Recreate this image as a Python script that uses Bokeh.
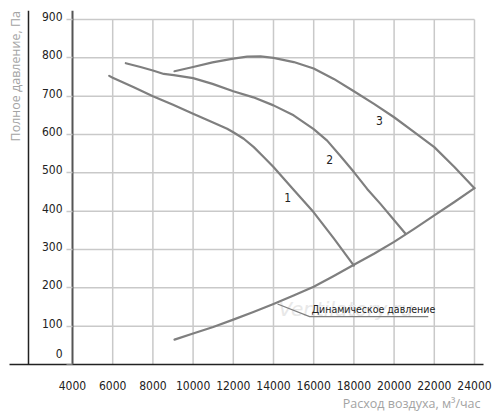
import math
from bokeh.plotting import figure
from bokeh.models import Range1d, Label, FixedTicker, LinearAxis, Span, Title
from bokeh.core.properties import value
from bokeh.embed import file_html
from bokeh.resources import INLINE

# ---- data ----
x_ticks = [4000, 6000, 8000, 10000, 12000, 14000, 16000, 18000, 20000, 22000, 24000]
y_ticks = [0, 100, 200, 300, 400, 500, 600, 700, 800, 900]
y_tick_labels = ["0", "100", "200", "300", "400", "500", "600", "700", "800", "900"]

curve1_x = [5826, 6000, 7050, 8000, 8975, 10000, 10965, 11695, 12000, 12520, 13020, 13500, 14000, 15000, 16000, 17000, 18000]
curve1_y = [753, 748, 723, 700, 678, 654, 632, 615, 606, 589, 567, 542, 515, 456, 397, 329, 258]

curve2_x = [6652, 7383, 8000, 8542, 9040, 10000, 10965, 12000, 13000, 14000, 15000, 16000, 16670, 17330, 18000, 18660, 19320, 20570]
curve2_y = [786, 776, 767, 758, 755, 747, 732, 713, 697, 676, 650, 614, 584, 544, 502, 458, 419, 341]

curve3_x = [9075, 10000, 10965, 12000, 12690, 13353, 14000, 15010, 16000, 17000, 18000, 19000, 20000, 21000, 22000, 23000, 24000]
curve3_y = [765, 776, 788, 798, 803, 804, 800, 789, 772, 745, 713, 680, 645, 606, 567, 515, 460]

dyn_x = [9075, 10000, 11000, 12000, 13000, 14000, 15000, 16000, 17000, 18000, 19000, 20000, 21000, 22000, 23000, 24000]
dyn_y = [65, 81, 98, 117, 137, 158, 180, 203, 231, 260, 289, 320, 354, 389, 424, 460]

curve_labels = ["1", "2", "3"]
curve_label_x = [14700, 16790, 19270]
curve_label_y = [436, 536, 637]

dyn_label = "Динамическое давление"
y_title = "Полное давление, Па"
x_title = "Расход воздуха, м³/час"

GRID = "#c9c9c9"
CURVE = "#7f7f7f"
TICK_FONT = "DejaVu Sans Condensed"

p = figure(width=500, height=416, output_backend="svg", toolbar_location=None,
           x_range=Range1d(866, 24448), y_range=Range1d(0, 923.5),
           y_axis_location=None,
           min_border_left=9, min_border_right=17, min_border_top=10, min_border_bottom=52)
p.outline_line_color = None
p.background_fill_color = "white"
p.grid.visible = False

# x axis (bottom line spans the whole frame)
p.xaxis.ticker = FixedTicker(ticks=x_ticks)
p.xaxis.axis_line_color = "#222222"
p.xaxis.axis_line_width = 1.5
p.xaxis.major_tick_line_color = None
p.xaxis.minor_tick_line_color = None
p.xaxis.major_label_standoff = 10
p.xaxis.major_label_text_font = TICK_FONT
p.xaxis.major_label_text_font_size = "12px"
p.xaxis.major_label_text_color = "#222222"

# y axis line and tick stubs drawn at x = 4000
yax = LinearAxis(fixed_location=4000, ticker=FixedTicker(ticks=y_ticks))
yax.axis_line_color = "#555555"
yax.axis_line_width = 2
yax.major_tick_out = 6
yax.major_tick_in = 0
yax.major_tick_line_color = GRID
yax.major_tick_line_width = 1.5
yax.minor_tick_line_color = None
yax.major_label_text_color = None
yax.major_label_text_font_size = "1px"
p.add_layout(yax, "left")

# y tick labels: sit slightly above their grid lines ("0" clear of the axis line)
label_shift = [28] + [8] * (len(y_ticks) - 1)
label_pos = [t + s for t, s in zip(y_ticks, label_shift)]
ylab = LinearAxis(fixed_location=4000, ticker=FixedTicker(ticks=label_pos),
                  major_label_overrides={pos: txt for pos, txt in zip(label_pos, y_tick_labels)})
ylab.axis_line_color = None
ylab.major_tick_line_color = None
ylab.minor_tick_line_color = None
ylab.major_tick_out = 6
ylab.major_label_standoff = 4
ylab.major_label_text_font = TICK_FONT
ylab.major_label_text_font_size = "12px"
ylab.major_label_text_color = "#222222"
p.add_layout(ylab, "left")

# grid lines
p.segment(x0=x_ticks[1:], y0=[0] * (len(x_ticks) - 1), x1=x_ticks[1:], y1=[y_ticks[-1]] * (len(x_ticks) - 1),
          line_color=GRID, line_width=1.5, level="underlay")
p.segment(x0=[x_ticks[0]] * (len(y_ticks) - 1), y0=y_ticks[1:], x1=[x_ticks[-1]] * (len(y_ticks) - 1), y1=y_ticks[1:],
          line_color=GRID, line_width=1.5, level="underlay")

# outer vertical frame line
p.add_layout(Span(location=1811, dimension="height", line_color="#222222", line_width=1.5))

# watermark
p.add_layout(Label(x=14250, y=146, text="Ventilatory.ru", text_font="DejaVu Sans",
                   text_font_style="italic", text_font_size="20px", text_color="#e8e8e8",
                   text_baseline="middle", text_align="left", level="underlay"))

# curves
for xs, ys in [(curve1_x, curve1_y), (curve2_x, curve2_y), (curve3_x, curve3_y), (dyn_x, dyn_y)]:
    p.line(xs, ys, line_color=CURVE, line_width=2.2, line_join="round", line_cap="round")

# leader line of the dynamic pressure label
p.line([14200, 15800, 21700], [158, 125, 125], line_color=CURVE, line_width=1.2)

p.text(x=curve_label_x, y=curve_label_y, text=curve_labels, text_font=value(TICK_FONT),
       text_font_size="12px", text_color="#222222", text_align="center", text_baseline="middle")
p.text(x=[15900], y=[129], text=[dyn_label], text_font=value(TICK_FONT),
       text_font_size="10.5px", text_color="#222222", text_align="left", text_baseline="bottom")

# axis titles
p.add_layout(Label(x=1164, y=922, text=y_title, angle=math.pi / 2, text_align="right",
                   text_baseline="middle", text_font="Open Sans", text_font_size="12.5px",
                   text_color="#a3a3a3"))
p.add_layout(Title(text=x_title, align="right", text_font="Open Sans", text_font_size="12.5px",
                   text_font_style="normal", text_color="#a3a3a3", offset=3, standoff=0), "below")

open("out.html", "w").write(file_html(p, INLINE))
